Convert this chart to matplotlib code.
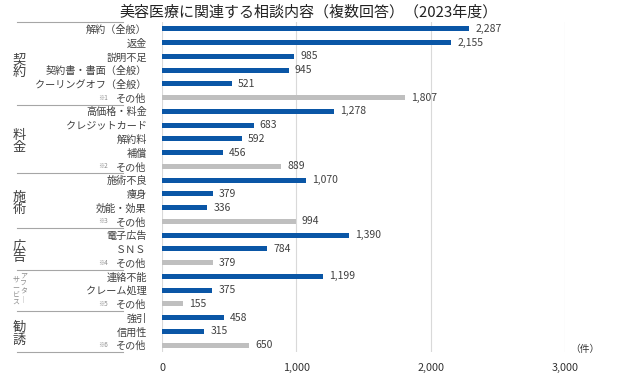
import matplotlib
matplotlib.use("Agg")
import matplotlib.pyplot as plt
from matplotlib.lines import Line2D

plt.rcParams['font.family'] = ['Noto Sans CJK JP', 'DejaVu Sans']

title = "美容医療に関連する相談内容（複数回答）（2023年度）"

groups = ["契\n約", "料\n金", "施\n術", "広\n告", "アフターサービス", "勧\n誘"]
group_sizes = [6, 5, 4, 3, 3, 3]
labels = [
    "解約（全般）", "返金", "説明不足", "契約書・書面（全般）", "クーリングオフ（全般）", "その他",
    "高価格・料金", "クレジットカード", "解約料", "補償", "その他",
    "施術不良", "痩身", "効能・効果", "その他",
    "電子広告", "ＳＮＳ", "その他",
    "連絡不能", "クレーム処理", "その他",
    "強引", "信用性", "その他",
]
values = [
    2287, 2155, 985, 945, 521, 1807,
    1278, 683, 592, 456, 889,
    1070, 379, 336, 994,
    1390, 784, 379,
    1199, 375, 155,
    458, 315, 650,
]
notes = ["※1", "※2", "※3", "※4", "※5", "※6"]
xticks = [0, 1000, 2000, 3000]
xticklabels = ["0", "1,000", "2,000", "3,000"]

BLUE = "#0a56a6"
GRAY = "#bfbfbf"

W, H = 624, 374
fig = plt.figure(figsize=(W / 100, H / 100), dpi=100)
ax_left, ax_right, ax_top, ax_bot = 162, 565, 22, 352
ax = fig.add_axes([ax_left / W, 1 - ax_bot / H, (ax_right - ax_left) / W, (ax_bot - ax_top) / H])

n = len(labels)
ys = list(range(n))
colors = [GRAY if lab == "その他" else BLUE for lab in labels]
ax.barh(ys, values, height=0.38, color=colors, zorder=3)
ax.set_ylim(n - 0.5, -0.5)
ax.set_xlim(0, 3000)
for y, v in zip(ys, values):
    ax.text(v + 45, y, f"{v:,}", va="center", ha="left", fontsize=7.5, color="#404040")

ax.set_xticks(xticks)
ax.set_xticklabels(xticklabels, fontsize=7.8, color="#333333")
ax.tick_params(axis="x", length=0, pad=8)
ax.set_yticks(ys)
ax.set_yticklabels(labels, fontsize=7.3, color="#404040")
ax.tick_params(axis="y", length=0, pad=11)
for s in ax.spines.values():
    s.set_visible(False)
ax.xaxis.grid(True, color="#d9d9d9", linewidth=0.8, zorder=0)
ax.set_axisbelow(True)

ax.text(1.05, -0.005, "（件）", transform=ax.transAxes, fontsize=7, color="#333333",
        ha="center", va="bottom")

fig.text(0.495, 1 - 12 / H, title, ha="center", va="center", fontsize=10.8, color="#222222")

def fy(data_y):
    return 1 - (ax_top + (data_y + 0.5) * (ax_bot - ax_top) / n) / H

start = 0
fig.add_artist(Line2D([17 / W, 123 / W], [fy(-0.5), fy(-0.5)], color="#a6a6a6", lw=0.8))
for gi, (g, size) in enumerate(zip(groups, group_sizes)):
    end = start + size
    fig.add_artist(Line2D([17 / W, 123 / W], [fy(end - 0.5), fy(end - 0.5)], color="#a6a6a6", lw=0.8))
    center = (start + end - 1) / 2
    if g == "アフターサービス":
        fig.text(23.5 / W, fy(center - 0.2), "ア\nフ\nタ\n｜", ha="center", va="center",
                 fontsize=5, color="#8c8c8c", linespacing=0.95)
        fig.text(16 / W, fy(center + 0.1), "サ\nー\nビ\nス", ha="center", va="center",
                 fontsize=5, color="#8c8c8c", linespacing=0.95)
    else:
        fig.text(19 / W, fy(center + 0.2), g, ha="center", va="center",
                 fontsize=9.5, color="#404040", linespacing=0.95)
    fig.text(103 / W, fy(end - 1), notes[gi], ha="center", va="center",
             fontsize=4.5, color="#8c8c8c")
    start = end

fig.savefig("out.png", dpi=100)
